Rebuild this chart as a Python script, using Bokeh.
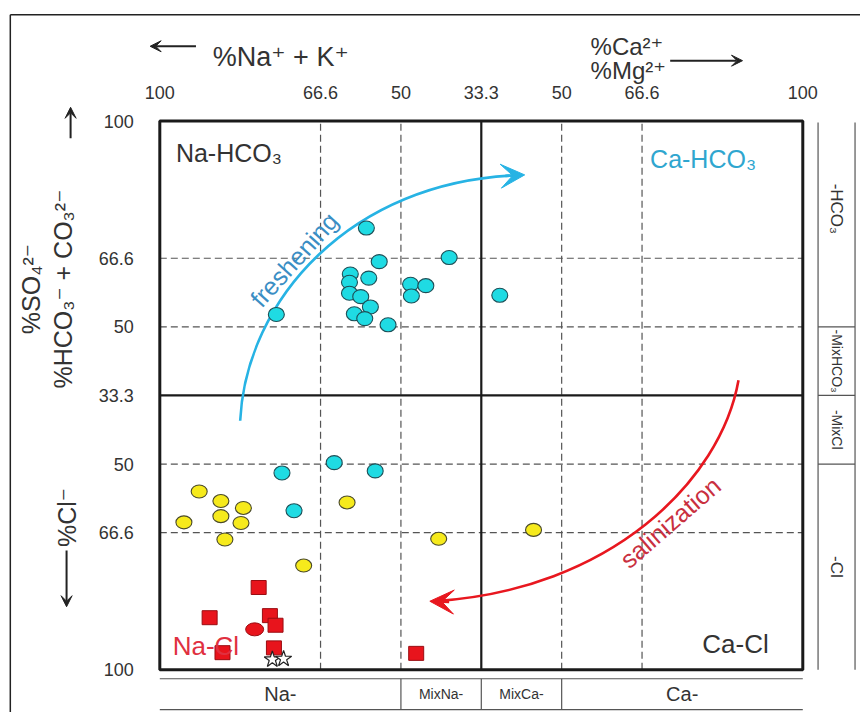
import math
from bokeh.plotting import figure
from bokeh.models import Label, Arrow, VeeHead, Range1d, FixedTicker, LinearAxis
from bokeh.embed import file_html
from bokeh.resources import INLINE

# ---------------- data (diagram coordinates: 0..8 on both axes) ----------------
X_TICKS = [0, 2, 3, 4, 5, 6, 8]
X_TICK_LABELS = ["100", "66.6", "50", "33.3", "50", "66.6", "100"]
Y_TICKS = [0, 2, 3, 4, 5, 6, 8]
Y_TICK_LABELS = ["100", "66.6", "50", "33.3", "50", "66.6", "100"]

# cyan samples (HCO3-type waters)
cyan_x = [2.57, 2.73, 3.60, 2.37, 2.60, 2.36, 3.12, 3.31, 2.36, 2.50, 3.13, 4.23,
          2.62, 2.42, 1.45, 2.55, 2.84, 2.17, 2.68, 1.52, 1.67]
cyan_y = [6.44, 5.95, 6.01, 5.77, 5.71, 5.65, 5.62, 5.60, 5.49, 5.44, 5.45, 5.46,
          5.29, 5.19, 5.18, 5.12, 5.03, 3.02, 2.90, 2.87, 2.32]
# yellow samples
yellow_x = [0.49, 0.76, 1.04, 2.33, 0.76, 0.30, 1.01, 0.81, 3.47, 4.65, 1.79]
yellow_y = [2.60, 2.46, 2.36, 2.44, 2.24, 2.15, 2.14, 1.90, 1.91, 2.04, 1.52]
# red squares
red_sq_x = [1.23, 0.62, 1.37, 1.44, 0.78, 1.42, 3.19]
red_sq_y = [1.20, 0.76, 0.79, 0.65, 0.25, 0.32, 0.24]
# red circle
red_ci_x = [1.18]
red_ci_y = [0.59]
# stars (end members)
star_x = [1.40, 1.54]
star_y = [0.15, 0.16]

FONT = "Liberation Sans, Arial, DejaVu Sans"

# the frame covers the whole canvas; the diagram box is 0..8 in both directions
p = figure(width=860, height=712,
           x_range=Range1d(-1.982, 8.718), y_range=Range1d(-0.622, 9.757),
           x_axis_location=None, y_axis_location=None,
           output_backend="svg", toolbar_location=None,
           min_border_left=0, min_border_right=0, min_border_top=0, min_border_bottom=0)
p.background_fill_color = "white"
p.border_fill_color = "white"
p.outline_line_color = None
p.xgrid.visible = False
p.ygrid.visible = False

top_axis = LinearAxis(fixed_location=8)
left_axis = LinearAxis(fixed_location=0)
p.add_layout(top_axis, "above")
p.add_layout(left_axis, "left")
for ax, ticks, labels, standoff in ((top_axis, X_TICKS, X_TICK_LABELS, 16),
                                     (left_axis, Y_TICKS, Y_TICK_LABELS, 20)):
    ax.ticker = FixedTicker(ticks=ticks)
    ax.major_label_overrides = {t: l for t, l in zip(ticks, labels)}
    ax.axis_line_color = None
    ax.major_tick_line_color = None
    ax.minor_tick_line_color = None
    ax.major_label_text_font = FONT
    ax.major_label_text_font_size = "18px"
    ax.major_label_text_color = "#333333"
    ax.major_label_standoff = standoff

# dashed grid lines
GRID = [2, 3, 5, 6]
p.segment(x0=GRID, y0=[0] * 4, x1=GRID, y1=[8] * 4, line_color="#555555",
          line_width=1.2, line_dash="7 4")
p.segment(x0=[0] * 4, y0=GRID, x1=[8] * 4, y1=GRID, line_color="#555555",
          line_width=1.2, line_dash="7 4")
# central solid cross
p.segment(x0=[4, 0], y0=[0, 4], x1=[4, 8], y1=[8, 4], line_color="#1a1a1a", line_width=2.2)
# diagram box
p.quad(left=[0], right=[8], bottom=[0], top=[8], fill_color=None,
       line_color="#1a1a1a", line_width=3)

# ---- process arrows (curves) ----
CY = "#27b3e4"
RD = "#e8171f"
p.bezier(x0=[1.00], y0=[3.63], cx0=[1.07], cy0=[5.38], cx1=[2.37], cy1=[7.13],
         x1=[4.47], y1=[7.21], line_color=CY, line_width=2.6)
p.add_layout(Arrow(end=VeeHead(size=24, fill_color=CY, line_color=CY),
                   x_start=4.30, y_start=7.20, x_end=4.54, y_end=7.215,
                   line_color=CY, line_width=2.6))
p.bezier(x0=[7.20], y0=[4.22], cx0=[6.98], cy0=[2.76], cx1=[5.61], cy1=[1.16],
         x1=[3.41], y1=[1.00], line_color=RD, line_width=2.6)
p.add_layout(Arrow(end=VeeHead(size=24, fill_color=RD, line_color=RD),
                   x_start=3.60, y_start=0.99, x_end=3.36, y_end=1.00,
                   line_color=RD, line_width=2.6))

# ---- samples ----
p.ellipse(x=cyan_x, y=cyan_y, width=16, height=14, width_units="screen",
          height_units="screen", fill_color="#1fdbe3", line_color="#1d4f57", line_width=1.1)
p.ellipse(x=yellow_x, y=yellow_y, width=16, height=13, width_units="screen",
          height_units="screen", fill_color="#f6ea1c", line_color="#4a4a2a", line_width=1.1)
p.rect(x=red_sq_x, y=red_sq_y, width=15, height=14, width_units="screen",
       height_units="screen", fill_color="#e8141c", line_color="#9a0d12", line_width=1)
p.ellipse(x=red_ci_x, y=red_ci_y, width=18, height=13, width_units="screen",
          height_units="screen", fill_color="#e8141c", line_color="#9a0d12", line_width=1)
p.scatter(x=star_x, y=star_y, marker="star", size=17, fill_color="white",
          line_color="#222222", line_width=1.2)


def lab(x, y, text, size, color="#333333", angle=0.0, align="left", baseline="alphabetic"):
    p.add_layout(Label(x=x, y=y, text=text, text_font=FONT, text_font_size=f"{size}px",
                       text_color=color, angle=angle, text_align=align,
                       text_baseline=baseline))


def seg(x0, y0, x1, y1, color="#555555", width=1.2, head=None):
    p.add_layout(Arrow(end=head, x_start=x0, y_start=y0, x_end=x1, y_end=y1,
                       line_color=color, line_width=width))


# quadrant labels
lab(0.20, 7.53, "Na-HCO₃", 25)
lab(6.10, 7.45, "Ca-HCO₃", 25, color="#2fa6cf")
lab(6.75, 0.38, "Ca-Cl", 26)
lab(0.16, 0.35, "Na-Cl", 26, color="#e0303f")
# process names
lab(1.67, 5.98, "freshening", 25, color="#3a8ec4", angle=math.radians(48),
    align="center", baseline="middle")
lab(6.35, 2.15, "salinization", 25, color="#c9303f", angle=math.radians(41),
    align="center", baseline="middle")

# top titles
lab(0.66, 8.93, "%Na⁺ + K⁺", 27)
lab(5.36, 9.09, "%Ca²⁺", 24)
lab(5.36, 8.74, "%Mg²⁺", 24)
HEAD = dict(size=11, fill_color="#222222", line_color="#222222")
seg(0.45, 9.09, -0.12, 9.09, color="#222222", width=2, head=VeeHead(**HEAD))
seg(6.35, 8.88, 7.25, 8.88, color="#222222", width=2, head=VeeHead(**HEAD))

# left titles
lab(-1.60, 5.55, "%SO₄²⁻", 25, angle=math.pi / 2, align="center", baseline="middle")
lab(-1.20, 5.55, "%HCO₃⁻ + CO₃²⁻", 25, angle=math.pi / 2, align="center", baseline="middle")
lab(-1.16, 2.22, "%Cl⁻", 25, angle=math.pi / 2, align="center", baseline="middle")
seg(-1.11, 7.75, -1.11, 8.20, color="#222222", width=2, head=VeeHead(**HEAD))
seg(-1.16, 1.74, -1.16, 0.92, color="#222222", width=2, head=VeeHead(**HEAD))

# bottom classification strip
BOT_TOP, BOT_BOT = -0.13, -0.58
seg(0, BOT_TOP, 8.0, BOT_TOP)
seg(0, BOT_BOT, 8.0, BOT_BOT)
for xv in (3, 4, 5):
    seg(xv, BOT_TOP, xv, BOT_BOT)
BOT_LABELS = ["Na-", "MixNa-", "MixCa-", "Ca-"]
BOT_CENTERS = [1.5, 3.5, 4.5, 6.5]
BOT_SIZES = [20, 14, 14, 20]
for t, c, s in zip(BOT_LABELS, BOT_CENTERS, BOT_SIZES):
    lab(c, -0.35, t, s, align="center", baseline="middle")

# right classification strip
R0, R1 = 8.19, 8.65
seg(R0, 0, R0, 7.98)
seg(R1, 0, R1, 7.98)
for yv in (5, 4, 3):
    seg(R0, yv, R1, yv)
RIGHT_LABELS = ["-HCO₃", "-MixHCO₃", "-MixCl", "-Cl"]
RIGHT_CENTERS = [6.72, 4.5, 3.5, 1.5]
RIGHT_SIZES = [17, 14, 14, 17]
for t, c, s in zip(RIGHT_LABELS, RIGHT_CENTERS, RIGHT_SIZES):
    lab((R0 + R1) / 2, c, t, s, angle=-math.pi / 2, align="center", baseline="middle")

# outer border of the figure
seg(-1.86, 9.55, -1.86, -0.65, color="#222222", width=1.5)
seg(-1.86, 9.55, 8.75, 9.55, color="#222222", width=1.5)

open("out.html", "w").write(file_html(p, INLINE))
